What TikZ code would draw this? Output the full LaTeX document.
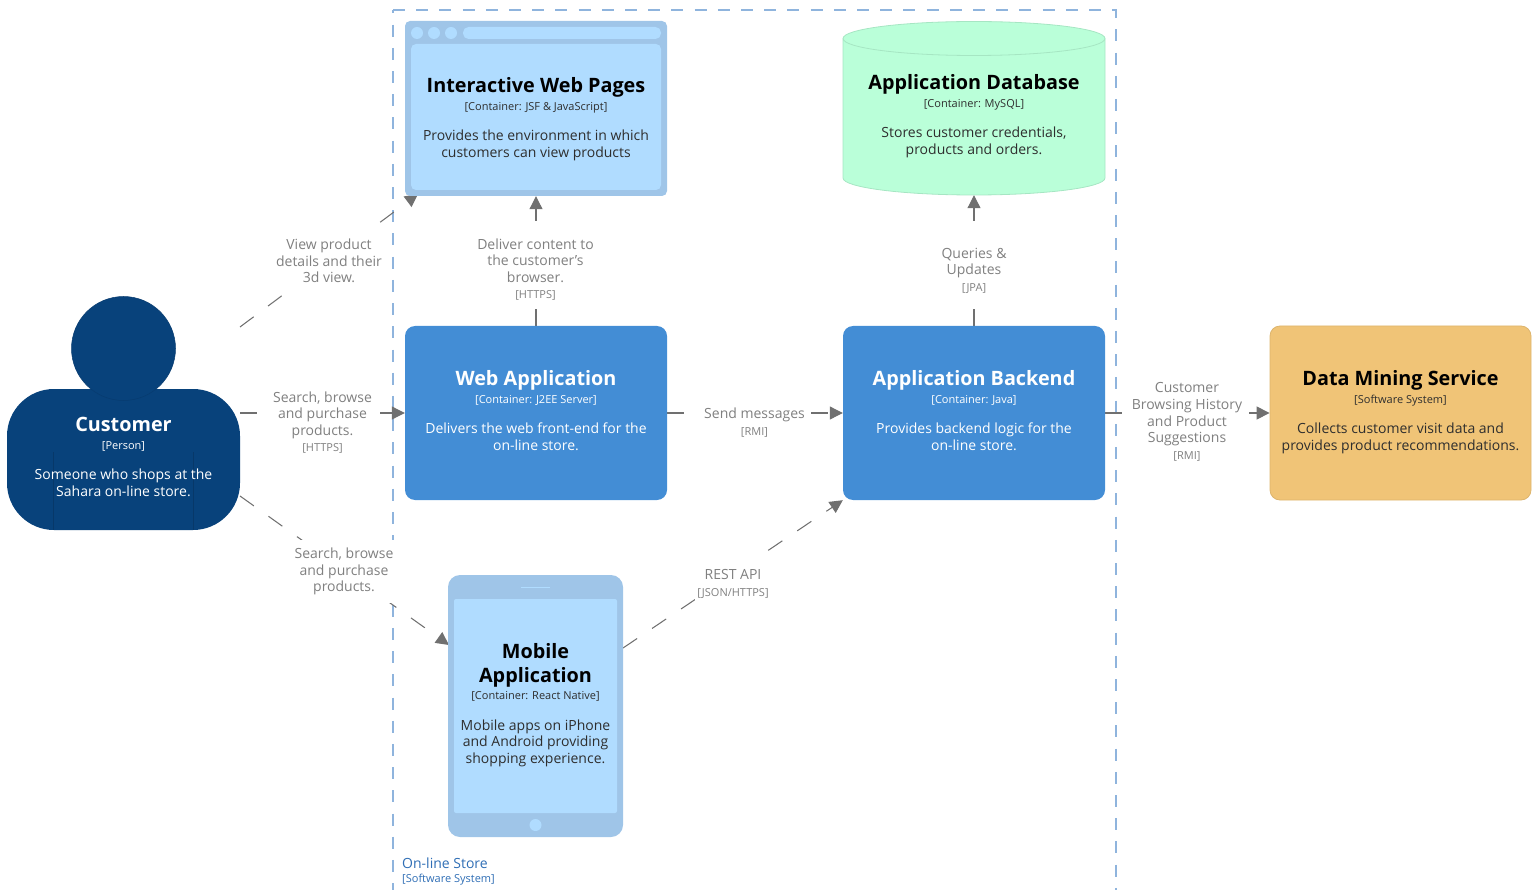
\documentclass[tikz,border=0pt]{standalone}
\usepackage{fontspec}
\setmainfont{Open Sans}
\usetikzlibrary{arrows.meta,backgrounds}
\definecolor{personblue}{HTML}{08427B}
\definecolor{containerblue}{HTML}{438DD5}
\definecolor{lightblue}{HTML}{B0DCFF}
\definecolor{frameblue}{HTML}{9FC5E8}
\definecolor{dbgreen}{HTML}{BAFFD9}
\definecolor{dbline}{HTML}{A6E6C3}
\definecolor{extyellow}{HTML}{F0C477}
\definecolor{extline}{HTML}{DDB46C}
\definecolor{linegray}{HTML}{707070}
\definecolor{labelgray}{HTML}{808080}
\definecolor{boundaryblue}{HTML}{8FB4DD}
\definecolor{storeblue}{HTML}{2F6EB5}
\newcommand{\titletext}[1]{{\fontsize{19.8}{24}\selectfont\bfseries #1}}
\newcommand{\boxtext}[3]{\titletext{#1}\\[1pt]{\fontsize{11}{14}\selectfont #2}\\[14pt]#3}
\newcommand{\metatext}[1]{{\fontsize{11}{16.6}\selectfont #1}}
\begin{document}
\begin{tikzpicture}[x=1pt,y=-1pt,
    txt/.style = {align=center,font=\fontsize{14}{16.6}\selectfont,inner sep=0pt},
    darktxt/.style = {txt,text=black!82},
    block/.style = {rounded corners=10pt,fill=containerblue,minimum width=262pt,minimum height=174pt},
    screen/.style = {rounded corners=5pt,fill=lightblue},
    edgelabel/.style = {txt,fill=white,text=labelgray,inner xsep=2pt,inner ysep=8pt},
    link/.style = {draw=linegray,line width=1.05pt,dash pattern=on 17pt off 18pt,-{Triangle[length=13pt,width=13pt]}}]

    \useasboundingbox (0,0) rectangle (1533,890);

    % Customer
    \node [fill=personblue,rounded corners=47pt,minimum width=233pt,minimum height=141pt] (customer) at (123.5,459.5){};
    \draw[personblue!85!black,line width=0.5pt] (53,452) -- (53,530) (193,452) -- (193,530);
    \node [circle,fill=personblue,draw=personblue!90!black,line width=0.5pt,minimum size=104pt] (customerhead) at (123.5,348.5){};
    \node [txt,text=white] (customertext) at (123.5,457){\boxtext{Customer}{[Person]}{Someone who shops at the\\Sahara on-line store.}};
    \coordinate (customertop) at (240,327);
    \coordinate (customermid) at (240,413);
    \coordinate (customerlow) at (240,496);

    % Interactive web pages
    \node [rounded corners=5pt,fill=frameblue,minimum width=262pt,minimum height=175pt] (webpages) at (536,108.5){};
    \foreach \x in {417,434,451}
        \fill[lightblue] (\x,33) circle(6pt);
    \fill[lightblue,rounded corners=5.5pt] (463,27) rectangle (661,39);
    \node [screen,minimum width=250pt,minimum height=146pt] (webpagesin) at (536,117){};
    \node [darktxt] (webpagestext) at (536,119.2){\boxtext{\color{black}Interactive Web Pages}{[Container: JSF \& JavaScript]}{Provides the environment in which\\customers can view products}};
    \coordinate (webpagesend) at (418,194);

    % Web application
    \node [block] (webapp) at (536,413){};
    \node [txt,text=white] (webapptext) at (536,410.5){\boxtext{Web Application}{[Container: J2EE Server]}{Delivers the web front-end for the\\on-line store.}};

    % Mobile application
    \node [rounded corners=12pt,fill=frameblue,minimum width=175pt,minimum height=262pt] (mobile) at (535.5,706){};
    \draw[lightblue,line width=1pt] (521,587) -- (550,587);
    \fill[lightblue] (535.5,825) circle(6pt);
    \node [screen,rounded corners=2pt,minimum width=163pt,minimum height=214pt] (mobilein) at (535.5,706){};
    \node [darktxt] (mobiletext) at (535.5,705.2){\titletext{\color{black}Mobile}\\[7pt]\boxtext{\color{black}Application}{[Container: React Native]}{Mobile apps on iPhone\\and Android providing\\shopping experience.}};
    \coordinate (mobileleft) at (449,645);
    \coordinate (mobileright) at (623,648);

    % Application database
    \draw[dbline,fill=dbgreen,line width=0.8pt] (843,38.5) -- (843,178) arc[start angle=180,end angle=360,x radius=131pt,y radius=17pt] -- (1105,38.5) arc[start angle=0,end angle=180,x radius=131pt,y radius=17pt] -- cycle;
    \draw[dbline,line width=0.8pt] (843,38.5) arc[start angle=180,end angle=360,x radius=131pt,y radius=17pt];
    \node [minimum width=262pt,minimum height=160pt] (database) at (974,115){};
    \node [darktxt] (databasetext) at (974,116.2){\boxtext{\color{black}Application Database}{[Container: MySQL]}{Stores customer credentials,\\products and orders.}};

    % Application backend
    \node [block] (backend) at (974,413){};
    \node [txt,text=white] (backendtext) at (974,410.5){\boxtext{Application Backend}{[Container: Java]}{Provides backend logic for the\\on-line store.}};

    % Data mining service
    \node [block,fill=extyellow,draw=extline,line width=0.8pt,minimum width=261pt] (mining) at (1400.5,413){};
    \node [darktxt] (miningtext) at (1400.5,412.2){\boxtext{\color{black}Data Mining Service}{[Software System]}{Collects customer visit data and\\provides product recommendations.}};

    % Store boundary and links go under the boxes
    \begin{pgfonlayer}{background}
        \draw[boundaryblue,line width=1.3pt,dash pattern=on 12pt off 11.2pt,dash phase=8.5pt] (393,10) -- (393,890);
        \draw[boundaryblue,line width=1.3pt,dash pattern=on 12pt off 11.2pt] (393,10) -- (1116,10) -- (1116,890);
        \draw[link] (customertop) -- (webpagesend);
        \draw[link] (customermid) -- (webapp.west);
        \draw[link] (customerlow) -- (mobileleft);
        \draw[link] (webapp.north) -- (webpages.south);
        \draw[link,dash pattern=on 17pt off 19pt] (webapp.east) -- (backend.west);
        \draw[link] (mobileright) -- (backend.south west);
        \draw[link] (backend.north) -- (database.south);
        \draw[link,dash pattern=on 17pt off 19pt] (backend.east) -- (mining.west);
    \end{pgfonlayer}

    % Link labels
    \node [edgelabel] (viewlabel) at (329,261) {View product\\details and their\\3d view.};
    \node [edgelabel] (httpslabel) at (322.5,422.5) {Search, browse\\and purchase\\products.\\\metatext{[HTTPS]}};
    \node [edgelabel] (mobilelabel) at (344,571.5) {Search, browse\\and purchase\\products.};
    \node [edgelabel] (deliverlabel) at (535.5,269.5) {Deliver content to\\the customer's\\browser.\\\metatext{[HTTPS]}};
    \node [edgelabel] (messagelabel) at (754.5,422.5) {Send messages\\\metatext{[RMI]}};
    \node [edgelabel,inner ysep=11pt] (restlabel) at (733,584) {REST API\\\metatext{[JSON/HTTPS]}};
    \node [edgelabel,inner ysep=11pt] (querylabel) at (974,270.5) {Queries \&\\Updates\\\metatext{[JPA]}};
    \node [edgelabel] (historylabel) at (1187,422) {Customer\\Browsing History\\and Product\\Suggestions\\\metatext{[RMI]}};

    % Store label
    \node [txt,anchor=west,align=left,text=storeblue] (storelabel) at (402,871.5) {On-line Store\\[-3pt]\metatext{[Software System]}};

\end{tikzpicture}
\end{document}
